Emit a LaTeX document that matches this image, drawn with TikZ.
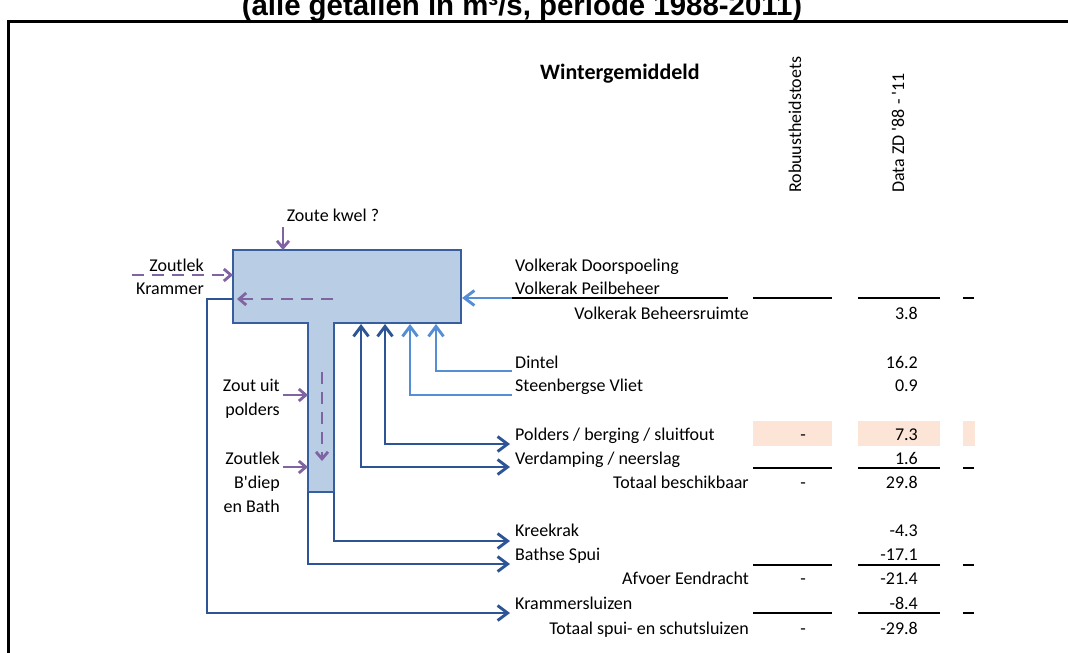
\documentclass[tikz,border=0pt]{standalone}
\usepackage{fontspec}
\setmainfont{Carlito}
\newfontfamily\titlefont{Liberation Sans}
\usetikzlibrary{arrows.meta}
\definecolor{dblue}{RGB}{45,85,150}
\definecolor{lblue}{RGB}{85,142,213}
\definecolor{boxfill}{RGB}{185,205,229}
\definecolor{boxline}{RGB}{55,95,160}
\definecolor{purp}{RGB}{128,100,162}
\definecolor{peach}{RGB}{252,228,214}
\tikzset{
  lbl/.style={inner sep=0pt, font=\fontsize{18}{20}\selectfont},
  barb/.tip={Straight Barb[length=10pt,width=15pt]},
  sbarb/.tip={Straight Barb[length=7pt,width=12pt]},
  darr/.style={draw=dblue, line width=2.9pt, line join=miter},
  larr/.style={draw=lblue, line width=2.9pt},
  parr/.style={draw=purp, line width=2.8pt},
  pdash/.style={draw=purp, line width=2.8pt, dash pattern=on 12pt off 8pt},
  rule/.style={draw=black, line width=1.1pt},
  shade/.style={fill=peach, draw=none},
}
\begin{document}
\begin{tikzpicture}[x=1pt,y=-1pt]
\useasboundingbox (0,0) rectangle (1068,653);
\clip (0,0) rectangle (1068,653);
% title and frame
\node[font=\titlefont\bfseries\fontsize{29.4}{30}\selectfont, anchor=base, inner sep=0pt] (title) at (522,16) {(alle getallen in m³/s, periode 1988-2011)};
\draw[line width=3pt] (8,700) -- (8,21.5) -- (1100,21.5);

% headers
\node[lbl, font=\bfseries\fontsize{22}{24}\selectfont, anchor=base west] (winter) at (540,79) {Wintergemiddeld};
\node[lbl, rotate=90, anchor=west] (robh) at (795,193) {Robuustheidstoets};
\node[lbl, rotate=90, anchor=west] (datah) at (898,193) {Data ZD \textquotesingle 88 - \textquotesingle 11};

% shaded row
\fill[shade] (753,421) rectangle (832,446);
\fill[shade] (858,421) rectangle (940,446);
\fill[shade] (963,421) rectangle (975,446);

% rules
\foreach \yy in {298,468,565,613}{
  \draw[rule] (753,\yy) -- (832,\yy);
  \draw[rule] (858,\yy) -- (940,\yy);
  \draw[rule] (963,\yy) -- (974,\yy);
}
\draw[rule] (512,298) -- (728,298);

% table labels
\node[lbl, anchor=base west] (vdoor) at (515,271) {Volkerak Doorspoeling};
\node[lbl, anchor=base west] (vpeil) at (515,294) {Volkerak Peilbeheer};
\node[lbl, anchor=base east] (vbeh) at (749,319) {Volkerak Beheersruimte};
\node[lbl, anchor=base west] (dintel) at (515,368) {Dintel};
\node[lbl, anchor=base west] (steen) at (515,391) {Steenbergse Vliet};
\node[lbl, anchor=base west] (polders) at (515,440) {Polders / berging / sluitfout};
\node[lbl, anchor=base west] (verd) at (515,464) {Verdamping / neerslag};
\node[lbl, anchor=base east] (totb) at (749,488) {Totaal beschikbaar};
\node[lbl, anchor=base west] (kreek) at (515,536) {Kreekrak};
\node[lbl, anchor=base west] (bathse) at (515,560) {Bathse Spui};
\node[lbl, anchor=base east] (afvoer) at (749,584) {Afvoer Eendracht};
\node[lbl, anchor=base west] (kramsl) at (515,609) {Krammersluizen};
\node[lbl, anchor=base east] (totsp) at (749,634) {Totaal spui- en schutsluizen};

% values
\node[lbl, anchor=base east] (n1) at (918,319) {3.8};
\node[lbl, anchor=base east] (n2) at (918,368) {16.2};
\node[lbl, anchor=base east] (n3) at (918,391) {0.9};
\node[lbl, anchor=base east] (n4) at (918,440) {7.3};
\node[lbl, anchor=base east] (n5) at (918,464) {1.6};
\node[lbl, anchor=base east] (n6) at (918,488) {29.8};
\node[lbl, anchor=base east] (n7) at (918,536) {-4.3};
\node[lbl, anchor=base east] (n8) at (918,560) {-17.1};
\node[lbl, anchor=base east] (n9) at (918,584) {-21.4};
\node[lbl, anchor=base east] (n10) at (918,609) {-8.4};
\node[lbl, anchor=base east] (n11) at (918,634) {-29.8};
\node[lbl, anchor=base] (d1) at (803,440) {-};
\node[lbl, anchor=base] (d2) at (803,488) {-};
\node[lbl, anchor=base] (d3) at (803,584) {-};
\node[lbl, anchor=base] (d4) at (803,634) {-};

% T-shaped basin
\draw[fill=boxfill, draw=boxline, line width=2.9pt, line join=miter]
  (233,250) coordinate (tl) -- (461,250) coordinate (tr) -- (461,323) coordinate (br)
  -- (334,323) -- (334,492) coordinate (sbr) -- (308,492) coordinate (sbl) -- (308,323) -- (233,323) coordinate (bl) -- cycle;

% connector end points
\coordinate (inVolk) at (462,298);
\coordinate (eVolk) at (512,298);
\coordinate (eDintel) at (512,371);
\coordinate (eSteen) at (512,395);
\coordinate (ePold) at (510,444);
\coordinate (eVerd) at (510,467);
\coordinate (eKreek) at (510,541);
\coordinate (eBath) at (510,564);
\coordinate (eKram) at (510,613);

% outflows
\draw[darr, -{barb}] (sbr) -- (334,541) -- (eKreek);
\draw[darr, -{barb}] (sbl) -- (308,564) -- (eBath);
\draw[darr, -{barb}] (233,299) -- (207,299) -- (207,613) -- (eKram);
\draw[darr, {barb}-{barb}] (385,324) -- (385,444) -- (ePold);
\draw[darr, {barb}-{barb}] (361,324) -- (361,467) -- (eVerd);
% inflows
\draw[larr, -{barb}] (eDintel) -- (436,371) -- (436,324);
\draw[larr, -{barb}] (eSteen) -- (410,395) -- (410,324);
\draw[larr, -{barb}] (eVolk) -- (inVolk);

% salt labels
\node[lbl, anchor=base] (kwel) at (333,221) {Zoute kwel ?};
\node[lbl, anchor=base east] (zk1) at (204,271) {Zoutlek};
\node[lbl, anchor=base east] (zk2) at (204,294) {Krammer};
\node[lbl, anchor=base east] (zp1) at (280,391) {Zout uit};
\node[lbl, anchor=base east] (zp2) at (280,415) {polders};
\node[lbl, anchor=base east] (zb1) at (280,464) {Zoutlek};
\node[lbl, anchor=base east] (zb2) at (280,488) {B\textquotesingle diep};
\node[lbl, anchor=base east] (zb3) at (280,512) {en Bath};

% salt arrows
\draw[parr, -{sbarb}] (283,227) -- (283,250);
\draw[pdash, -{sbarb}] (132,275) -- (233,275);
\draw[pdash, -{sbarb}] (333,299) -- (237,299);
\draw[pdash, -{sbarb}] (322,372) -- (322,461);
\draw[parr, -{sbarb}] (283,395) -- (308,395);
\draw[parr, -{sbarb}] (283,467) -- (308,467);
\end{tikzpicture}
\end{document}
